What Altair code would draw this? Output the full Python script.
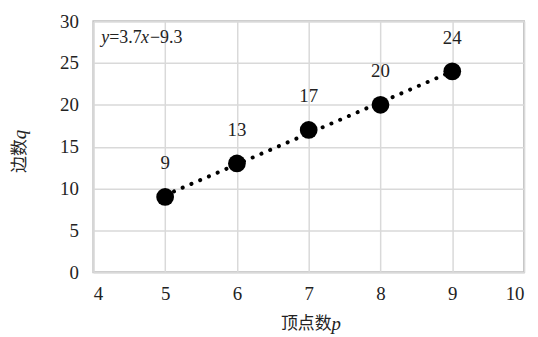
import altair as alt
import pandas as pd

p_vals = [5, 6, 7, 8, 9]
q_vals = [9, 13, 17, 20, 24]
trend_x = [5, 9]
trend_y = [3.7 * 5 - 9.3, 3.7 * 9 - 9.3]

SERIF = "Liberation Serif"
CJK = "Noto Sans CJK SC"

pts = pd.DataFrame({"p": p_vals, "q": q_vals, "lab": [str(v) for v in q_vals]})
trend = pd.DataFrame({"p": trend_x, "q": trend_y})

W, H = 434, 253

xs = alt.Scale(domain=[4, 10], nice=False)
ys = alt.Scale(domain=[0, 30], nice=False)

xax = alt.Axis(values=[4, 5, 6, 7, 8, 9, 10], format="d", title=None, ticks=False, domain=False,
               grid=True, gridColor="#d9d9d9", gridWidth=1.5,
               labelFont=SERIF, labelFontSize=19, labelColor="#222", labelPadding=12)
yax = alt.Axis(values=[0, 5, 10, 15, 20, 25, 30], format="d", title=None, ticks=False, domain=False,
               grid=True, gridColor="#d9d9d9", gridWidth=1.5,
               labelFont=SERIF, labelFontSize=19, labelColor="#222", labelPadding=15)

line = alt.Chart(trend).mark_line(color="black", strokeWidth=4, strokeDash=[0.1, 9.5],
                                  strokeCap="round").encode(
    x=alt.X("p:Q", scale=xs, axis=xax),
    y=alt.Y("q:Q", scale=ys, axis=yax),
)

dots = alt.Chart(pts).mark_circle(color="black", opacity=1, size=320).encode(
    x=alt.X("p:Q", scale=xs),
    y=alt.Y("q:Q", scale=ys),
)

labels = alt.Chart(pts).mark_text(font=SERIF, fontSize=19, color="#222", dy=-34,
                                  baseline="middle").encode(
    x=alt.X("p:Q", scale=xs),
    y=alt.Y("q:Q", scale=ys),
    text="lab:N",
)

one = pd.DataFrame({"k": [0]})

def txt(s, x, y, italic=False, align="left", angle=0, font=SERIF, size=19):
    kw = dict(text=s, font=font, fontSize=size, color="#222", align=align,
              baseline="middle")
    if italic:
        kw["fontStyle"] = "italic"
    if angle:
        kw["angle"] = angle
    return alt.Chart(one).mark_text(**kw).encode(x=alt.value(x), y=alt.value(y))

# equation y=3.7x−9.3
eq = (txt("y", 8, 17, italic=True, size=18)
      + txt("=3.7", 16, 17, size=18)
      + txt("x", 48, 17, italic=True, size=18)
      + txt("−9.3", 57, 17, size=18))

xtitle = (txt("顶点数", 240, 305, align="right", font=CJK, size=17)
          + txt("p", 240, 305, italic=True))
ytitle = (txt("边数", -74, 119, align="right", angle=270, font=CJK, size=17)
          + txt("q", -74, 119, italic=True, align="left", angle=270))

chart = alt.layer(line, dots, labels, eq, xtitle, ytitle).properties(
    width=W, height=H,
    autosize=alt.AutoSizeParams(type="none"),
    padding={"left": 86, "top": 12, "right": 6, "bottom": 62},
).configure_view(stroke="#bfbfbf", strokeWidth=2)

chart.save("out.html", embed_options={"renderer": "svg", "actions": False})
